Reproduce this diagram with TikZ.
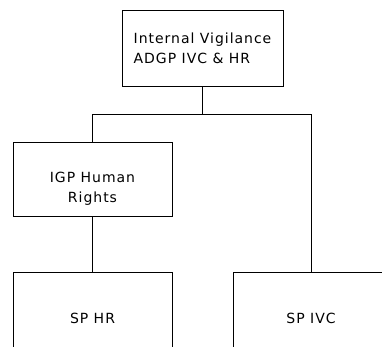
\documentclass[tikz,border=0pt]{standalone}
\usepackage{fontspec}
\setmainfont{DejaVu Sans}[LetterSpace=7]
\usetikzlibrary{positioning}

\begin{document}
\begin{tikzpicture}[x=1pt, y=-1pt,
    box/.style={draw, line width=0.9pt, inner sep=0pt, font=\fontsize{14}{20}\selectfont},
    link/.style={line width=0.9pt}]
    \useasboundingbox (0,0) rectangle (382,346);
    \clip (0,0) rectangle (382,346);
    \node [box, minimum width=161, minimum height=76, align=left] (ivg) at (202.5,48) {Internal Vigilance\\ADGP IVC \& HR};
    \node [box, minimum width=159, minimum height=74,
        label={[font=\fontsize{14}{20}\selectfont, align=center, yshift=-10pt]center:IGP Human\\Rights}] (igp) at (92.5,179) {};
    \node [box, minimum width=159, minimum height=92] (sphr) at (92.5,318) {SP HR};
    \node [box, minimum width=156, minimum height=92] (spivc) at (311,318) {SP IVC};
    
    % Tree links
    \draw [link] (ivg.south) -- ++(0,28) coordinate (split);
    \draw [link] (igp.north) |- (split) -| (spivc.north);
    \draw [link] (igp.south) -- (sphr.north);
\end{tikzpicture}
\end{document}
